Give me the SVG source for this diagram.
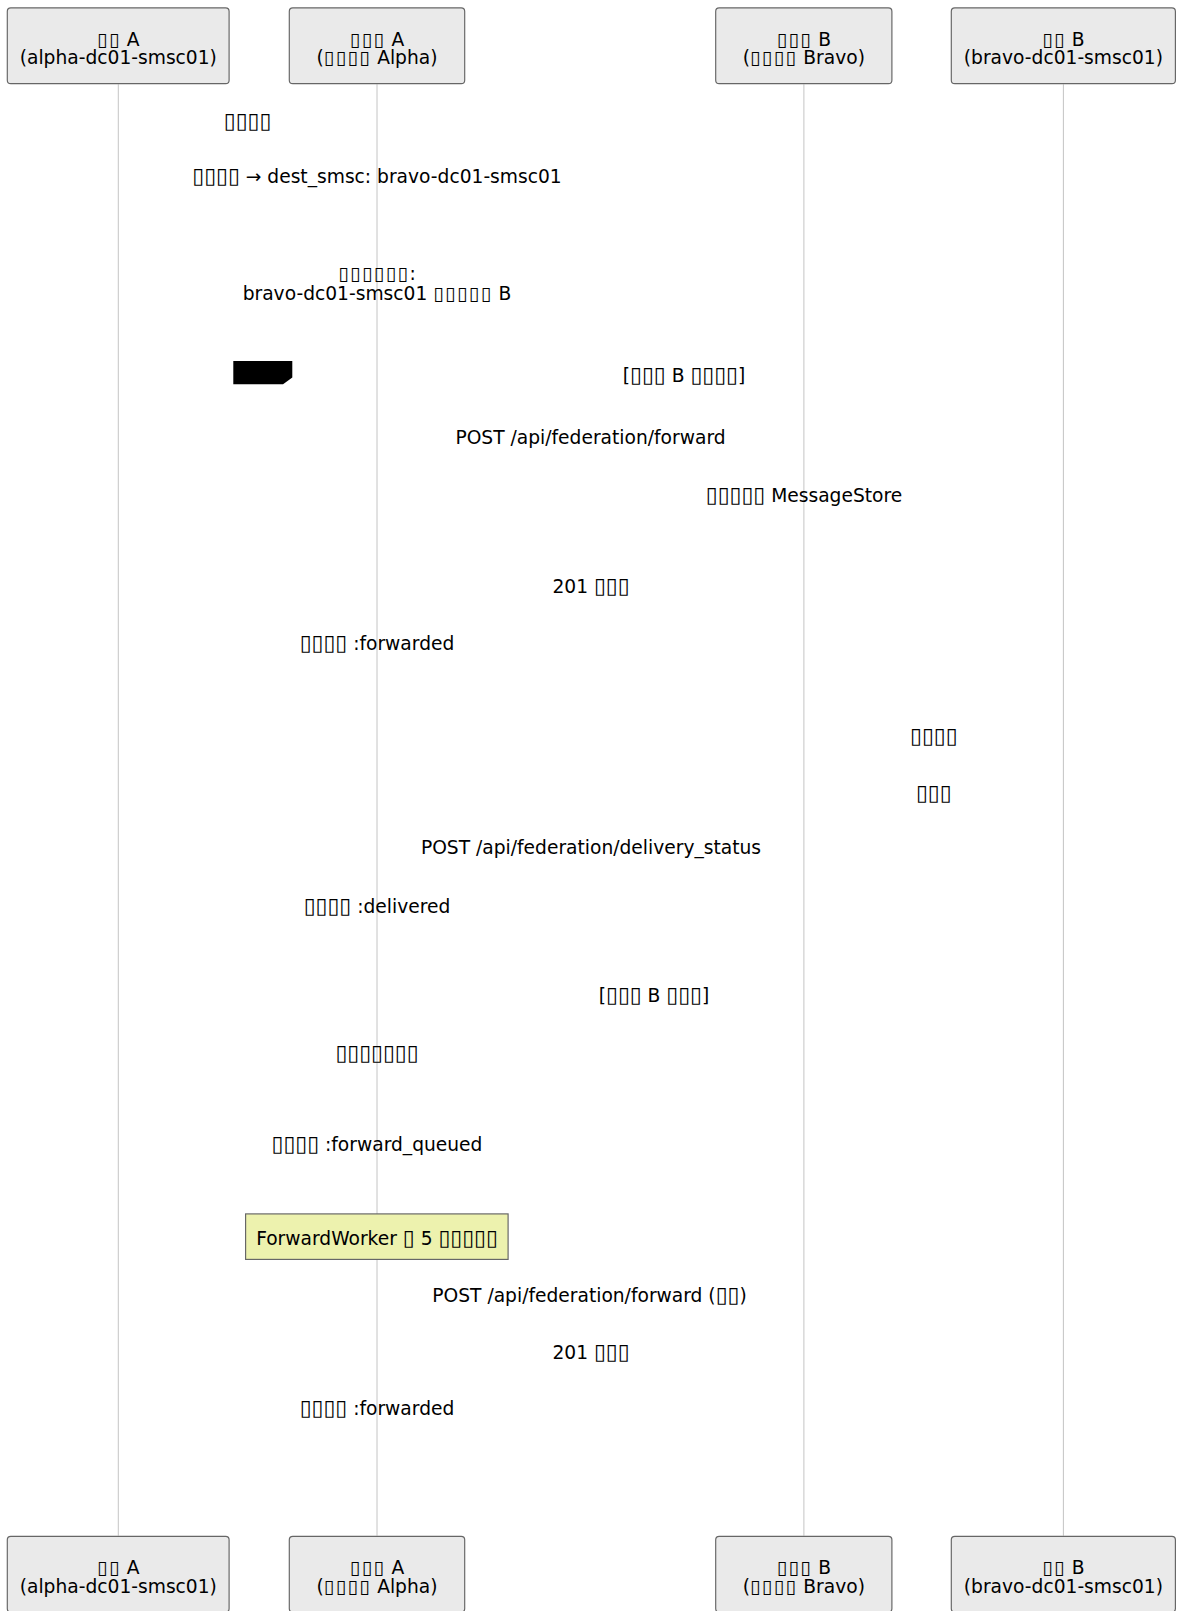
<svg xmlns="http://www.w3.org/2000/svg" width="1177" height="1611" viewBox="0 0 1177 1611">
  <style>
    text { font-family: "DejaVu Sans", "Noto Sans CJK SC", sans-serif; font-size: 18.67px; fill: #000; }
    .g { font-size: 21.6px; }
    .gs { letter-spacing: 1.6px; }
    .actor { fill: #eaeaea; stroke: #666; stroke-width: 1.17; }
    .lifeline { stroke: #999; stroke-width: 0.58; fill: none; }
    .c { text-anchor: middle; }
    .note { fill: #EDF2AE; stroke: #666; stroke-width: 1.17; }
    .tab { fill: #000; }
  </style>
  <rect width="1177" height="1611" fill="#fff"/>

  <!-- lifelines -->
  <g id="lifelines">
    <line class="lifeline" x1="118.3" y1="84.3" x2="118.3" y2="1535.7"/>
    <line class="lifeline" x1="377" y1="84.3" x2="377" y2="1535.7"/>
    <line class="lifeline" x1="803.9" y1="84.3" x2="803.9" y2="1535.7"/>
    <line class="lifeline" x1="1063.4" y1="84.3" x2="1063.4" y2="1535.7"/>
  </g>

  <!-- participants (head and foot boxes) -->
  <g id="smsc-a">
    <rect class="actor" x="7.3" y="7.9" width="221.8" height="75.8" rx="3.5"/>
    <text class="c" x="118.3" y="45.7"><tspan class="gs">▯▯</tspan> A<tspan x="118.3" dy="18.6">(alpha-dc01-smsc01)</tspan></text>
    <rect class="actor" x="7.3" y="1536.3" width="221.8" height="75.8" rx="3.5"/>
    <text class="c" x="118.3" y="1574.1"><tspan class="gs">▯▯</tspan> A<tspan x="118.3" dy="18.6">(alpha-dc01-smsc01)</tspan></text>
  </g>
  <g id="federation-a">
    <rect class="actor" x="289.3" y="7.9" width="175.4" height="75.8" rx="3.5"/>
    <text class="c" x="377" y="45.7"><tspan class="gs">▯▯▯</tspan> A<tspan x="377" dy="18.6">(<tspan class="gs">▯▯▯▯</tspan> Alpha)</tspan></text>
    <rect class="actor" x="289.3" y="1536.3" width="175.4" height="75.8" rx="3.5"/>
    <text class="c" x="377" y="1574.1"><tspan class="gs">▯▯▯</tspan> A<tspan x="377" dy="18.6">(<tspan class="gs">▯▯▯▯</tspan> Alpha)</tspan></text>
  </g>
  <g id="federation-b">
    <rect class="actor" x="715.7" y="7.9" width="176.2" height="75.8" rx="3.5"/>
    <text class="c" x="803.8" y="45.7"><tspan class="gs">▯▯▯</tspan> B<tspan x="803.8" dy="18.6">(<tspan class="gs">▯▯▯▯</tspan> Bravo)</tspan></text>
    <rect class="actor" x="715.7" y="1536.3" width="176.2" height="75.8" rx="3.5"/>
    <text class="c" x="803.8" y="1574.1"><tspan class="gs">▯▯▯</tspan> B<tspan x="803.8" dy="18.6">(<tspan class="gs">▯▯▯▯</tspan> Bravo)</tspan></text>
  </g>
  <g id="smsc-b">
    <rect class="actor" x="951.3" y="7.9" width="224.1" height="75.8" rx="3.5"/>
    <text class="c" x="1063.4" y="45.7"><tspan class="gs">▯▯</tspan> B<tspan x="1063.4" dy="18.6">(bravo-dc01-smsc01)</tspan></text>
    <rect class="actor" x="951.3" y="1536.3" width="224.1" height="75.8" rx="3.5"/>
    <text class="c" x="1063.4" y="1574.1"><tspan class="gs">▯▯</tspan> B<tspan x="1063.4" dy="18.6">(bravo-dc01-smsc01)</tspan></text>
  </g>

  <!-- alt fragment label tab and section guards -->
  <g id="alt-fragment">
    <polygon class="tab" points="233.3,361 292.3,361 292.3,377.5 283,384.3 233.3,384.3"/>
    <text class="c" x="684" y="381.5">[<tspan class="g">▯▯▯</tspan> B <tspan class="g">▯▯▯▯</tspan>]</text>
    <text class="c" x="654" y="1001.5">[<tspan class="g">▯▯▯</tspan> B <tspan class="g">▯▯▯</tspan>]</text>
  </g>

  <!-- retry note over federation A -->
  <g id="note-retry">
    <rect class="note" x="245.6" y="1213.9" width="262.5" height="45.5"/>
    <text class="c" x="377" y="1245">ForwardWorker <tspan class="g">▯</tspan> 5 <tspan class="g">▯▯▯▯▯</tspan></text>
  </g>

  <!-- message labels -->
  <g id="messages">
    <text class="c" x="247.6" y="128"><tspan class="g">▯▯▯▯</tspan></text>
    <text class="c" x="377" y="182.7"><tspan class="g">▯▯▯▯</tspan> → dest_smsc: bravo-dc01-smsc01</text>
    <text class="c" x="377" y="279.5"><tspan class="gs">▯▯▯▯▯▯</tspan>:<tspan x="377" dy="20.8">bravo-dc01-smsc01 <tspan class="gs">▯▯▯▯▯</tspan> B</tspan></text>
    <text class="c" x="590.5" y="444">POST /api/federation/forward</text>
    <text class="c" x="804" y="501.5"><tspan class="g">▯▯▯▯▯</tspan> MessageStore</text>
    <text class="c" x="591" y="593">201 <tspan class="g">▯▯▯</tspan></text>
    <text class="c" x="377" y="650"><tspan class="g">▯▯▯▯</tspan> :forwarded</text>
    <text class="c" x="933.8" y="743"><tspan class="g">▯▯▯▯</tspan></text>
    <text class="c" x="933.8" y="800"><tspan class="g">▯▯▯</tspan></text>
    <text class="c" x="591" y="854">POST /api/federation/delivery_status</text>
    <text class="c" x="377" y="913"><tspan class="g">▯▯▯▯</tspan> :delivered</text>
    <text class="c" x="377" y="1060"><tspan class="g">▯▯▯▯▯▯▯</tspan></text>
    <text class="c" x="377" y="1150.5"><tspan class="g">▯▯▯▯</tspan> :forward_queued</text>
    <text class="c" x="589.5" y="1301.5">POST /api/federation/forward (<tspan class="g">▯▯</tspan>)</text>
    <text class="c" x="591" y="1359">201 <tspan class="g">▯▯▯</tspan></text>
    <text class="c" x="377" y="1415"><tspan class="g">▯▯▯▯</tspan> :forwarded</text>
  </g>
</svg>
